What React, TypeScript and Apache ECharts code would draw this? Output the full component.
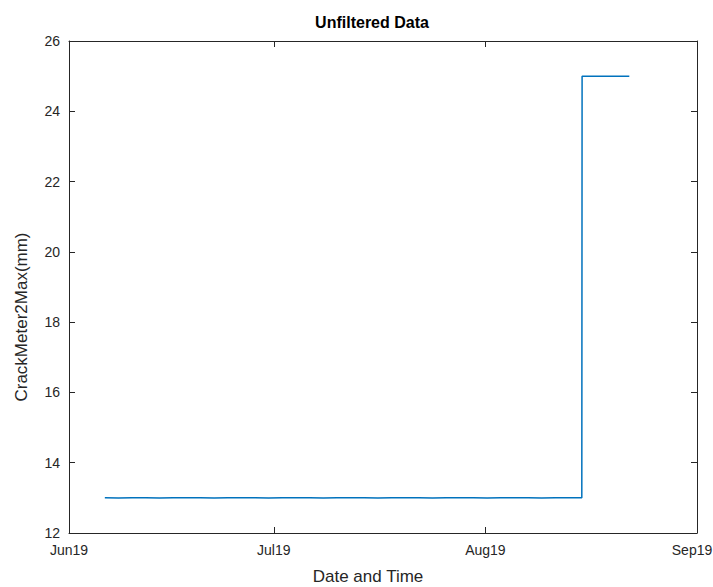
import React, { useEffect, useRef } from "react";
import * as echarts from "echarts";

const times: string[] = [
  "2019-06-06T06:00:00Z", "2019-06-08T06:00:00Z", "2019-06-10T06:00:00Z", "2019-06-12T06:00:00Z",
  "2019-06-14T06:00:00Z", "2019-06-16T06:00:00Z", "2019-06-18T06:00:00Z", "2019-06-20T06:00:00Z",
  "2019-06-22T06:00:00Z", "2019-06-24T06:00:00Z", "2019-06-26T06:00:00Z", "2019-06-28T06:00:00Z",
  "2019-06-30T06:00:00Z", "2019-07-02T06:00:00Z", "2019-07-04T06:00:00Z", "2019-07-06T06:00:00Z",
  "2019-07-08T06:00:00Z", "2019-07-10T06:00:00Z", "2019-07-12T06:00:00Z", "2019-07-14T06:00:00Z",
  "2019-07-16T06:00:00Z", "2019-07-18T06:00:00Z", "2019-07-20T06:00:00Z", "2019-07-22T06:00:00Z",
  "2019-07-24T06:00:00Z", "2019-07-26T06:00:00Z", "2019-07-28T06:00:00Z", "2019-07-30T06:00:00Z",
  "2019-08-01T06:00:00Z", "2019-08-03T06:00:00Z", "2019-08-05T06:00:00Z", "2019-08-07T06:00:00Z",
  "2019-08-09T06:00:00Z", "2019-08-11T06:00:00Z", "2019-08-13T06:00:00Z", "2019-08-15T03:00:00Z",
  "2019-08-15T04:00:00Z", "2019-08-17T06:00:00Z", "2019-08-19T06:00:00Z", "2019-08-21T06:00:00Z",
  "2019-08-22T02:00:00Z",
];
const crackValues: number[] = [
  13.0, 12.995, 13.0, 13.0, 12.995, 13.0, 13.005, 13.0,
  12.995, 13.0, 13.0, 13.0, 12.995, 13.0, 13.005, 13.0,
  12.995, 13.0, 13.0, 13.0, 12.995, 13.0, 13.005, 13.0,
  12.995, 13.0, 13.0, 13.0, 12.995, 13.0, 13.005, 13.0,
  12.995, 13.0, 13.0, 13.0,
  25.0, 25.0, 25.0, 25.0, 25.0,
];
const monthTicks: string[] = ["2019-06-01T00:00:00Z", "2019-07-01T00:00:00Z", "2019-08-01T00:00:00Z", "2019-09-01T00:00:00Z"];
const monthNames: string[] = ["Jan", "Feb", "Mar", "Apr", "May", "Jun", "Jul", "Aug", "Sep", "Oct", "Nov", "Dec"];
const yMin = 12;
const yMax = 26;
const yStep = 2;

const FONT = "Liberation Sans, Arial, sans-serif";
const AXIS_COLOR = "#262626";

export default function App() {
  const ref = useRef<HTMLDivElement>(null);
  useEffect(() => {
    if (!ref.current) return;
    const chart = echarts.init(ref.current, null, { renderer: "svg" });
    const tickVals = monthTicks.map((s) => Date.parse(s));
    const xMin = tickVals[0];
    const xMax = tickVals[tickVals.length - 1];
    const fmt = (v: number) => {
      const d = new Date(v);
      const s = monthNames[d.getUTCMonth()] + String(d.getUTCFullYear()).slice(2);
      return v === xMax ? "{last|" + s + "}" : s;
    };
    const baseX = {
      type: "value" as const,
      min: xMin,
      max: xMax,
      splitLine: { show: false },
      axisLine: { show: true, onZero: false, lineStyle: { color: AXIS_COLOR, width: 1 } },
      axisTick: { show: true, inside: true, length: 6, customValues: tickVals, lineStyle: { color: AXIS_COLOR } },
    };
    const baseY = {
      type: "value" as const,
      min: yMin,
      max: yMax,
      interval: yStep,
      splitLine: { show: false },
      axisLine: { show: true, onZero: false, lineStyle: { color: AXIS_COLOR, width: 1 } },
      axisTick: { show: true, inside: true, length: 6, lineStyle: { color: AXIS_COLOR } },
    };
    chart.setOption({
      animation: false,
      backgroundColor: "#ffffff",
      title: {
        text: "Unfiltered Data",
        left: 367,
        textAlign: "center",
        top: 9,
        textStyle: { fontFamily: FONT, fontSize: 16, fontWeight: "bold", color: "#000" },
      },
      grid: { left: 69, right: 16, top: 41, bottom: 54, containLabel: false, outerBoundsMode: "none" },
      xAxis: [
        {
          ...baseX,
          position: "bottom",
          axisLabel: {
            show: true,
            customValues: tickVals,
            formatter: fmt,
            fontFamily: FONT,
            fontSize: 14,
            color: AXIS_COLOR,
            margin: 10,
            hideOverlap: false,
            rich: {
              last: { fontFamily: FONT, fontSize: 14, color: AXIS_COLOR, padding: [0, 10, 0, 0] },
            },
          },
        },
        { ...baseX, position: "top", axisLabel: { show: false } },
      ],
      yAxis: [
        {
          ...baseY,
          position: "left",
          axisLabel: { fontFamily: FONT, fontSize: 14, color: AXIS_COLOR, margin: 9 },
        },
        { ...baseY, position: "right", axisLabel: { show: false } },
      ],
      graphic: [
        {
          type: "text",
          x: 368,
          y: 576,
          style: {
            text: "Date and Time",
            fontFamily: FONT,
            fontSize: 17,
            fill: AXIS_COLOR,
            textAlign: "center",
            textVerticalAlign: "middle",
          },
        },
        {
          type: "text",
          x: 21,
          y: 317,
          rotation: Math.PI / 2,
          style: {
            text: "CrackMeter2Max(mm)",
            fontFamily: FONT,
            fontSize: 17,
            fill: AXIS_COLOR,
            textAlign: "center",
            textVerticalAlign: "middle",
          },
        },
      ],
      series: [
        {
          type: "line",
          data: times.map((t, i) => [Date.parse(t), crackValues[i]]),
          showSymbol: false,
          symbol: "none",
          lineStyle: { color: "#0072BD", width: 1.5 },
          xAxisIndex: 0,
          yAxisIndex: 0,
        },
      ],
    });
    return () => chart.dispose();
  }, []);
  return <div ref={ref} style={{ width: 713, height: 587, position: "absolute", left: 0, top: 0 }} />;
}
